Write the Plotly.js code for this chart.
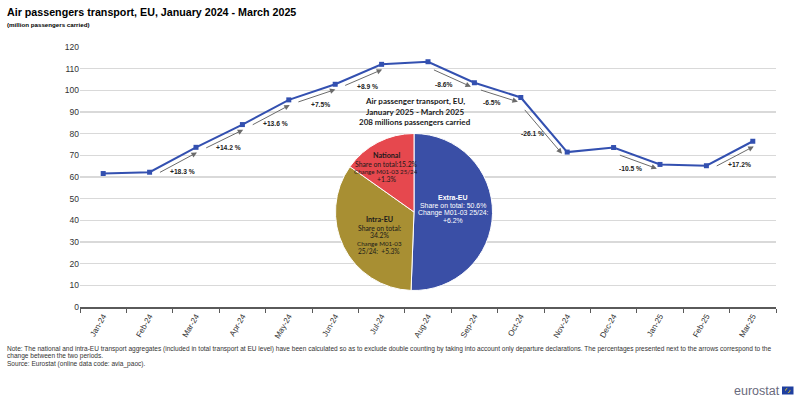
<!DOCTYPE html>
<html>
<head>
<meta charset="utf-8">
<script src="https://cdn.plot.ly/plotly-3.0.1.min.js"></script>
<style>html,body{margin:0;padding:0;background:#fff;}#chart{width:800px;height:399px;}</style>
</head>
<body>
<div id="chart"></div>
<script>
// ---- data ----
const months = ["Jan-24","Feb-24","Mar-24","Apr-24","May-24","Jun-24","Jul-24","Aug-24","Sep-24","Oct-24","Nov-24","Dec-24","Jan-25","Feb-25","Mar-25"];
const passengers = [61.6, 62.2, 73.7, 84.2, 95.6, 102.8, 112.0, 113.2, 103.5, 96.7, 71.5, 73.6, 65.8, 65.2, 76.5];
// arrows: from month -> to month, with label
const changeFrom = ["Feb-24","Mar-24","Apr-24","May-24","Jun-24","Aug-24","Sep-24","Oct-24","Dec-24","Feb-25"];
const changeTo   = ["Mar-24","Apr-24","May-24","Jun-24","Jul-24","Sep-24","Oct-24","Nov-24","Jan-25","Mar-25"];
const changeLabels = ["+18.3 %","+14.2 %","+13.6 %","+7.5%","+8.9 %","-8.6%","-6.5%","-26.1 %","-10.5 %","+17.2%"];
// pie: Jan-Mar 2025
const pieLabels = ["Extra-EU","Intra-EU","National"];
const pieShares = [50.6, 34.2, 15.2];
const pieChanges = ["+6.2%","+5.3%","+1.3%"];
const pieColors = ["#3A4FA6","#A88F33","#E6484E"];

// ---- geometry (plot area) ----
const M = {l:80, r:24, t:47, b:92};
const W = 800, H = 399;
const plotW = W - M.l - M.r, plotH = H - M.t - M.b;
const yMax = 120;
const pxPerCat = plotW / months.length;
const pxPerVal = plotH / yMax;
const px = x => (x - M.l) / plotW;       // pixel x -> paper
const py = y => (H - M.b - y) / plotH;   // pixel y -> paper

const annotations = [];
const arrowFont = {family:"Liberation Sans, Arial", size:6.7, color:"#222"};

changeFrom.forEach((f, k) => {
  const i1 = months.indexOf(f), i2 = months.indexOf(changeTo[k]);
  const v1 = passengers[i1], v2 = passengers[i2];
  const dxp = (i2 - i1) * pxPerCat, dyp = -(v2 - v1) * pxPerVal;
  const len = Math.hypot(dxp, dyp);
  const nx = -dyp / len, ny = dxp / len; // downward perpendicular (screen coords)
  const off = 5;
  const t0 = 0.14, t1 = 0.97;
  annotations.push({
    x: i1 + t1 * (i2 - i1), y: v1 + t1 * (v2 - v1), xref:"x", yref:"y",
    ax: i1 + t0 * (i2 - i1), ay: v1 + t0 * (v2 - v1), axref:"x", ayref:"y",
    showarrow:true, arrowhead:2, arrowsize:1.1, arrowwidth:1, arrowcolor:"#6b6b6b",
    xshift: nx * off, yshift: -ny * off, text:"", standoff:0, startstandoff:0
  });
  const d = 13;
  const extra = (v2 > v1) ? 4 : -2;
  annotations.push({
    x: (i1 + i2) / 2, y: (v1 + v2) / 2, xref:"x", yref:"y",
    text: "<b>" + changeLabels[k] + "</b>", showarrow:false, font: arrowFont, borderpad:0,
    xshift: nx * d + extra, yshift: -ny * d
  });
});

function txt(t, x, y, size, opts) {
  opts = opts || {};
  annotations.push({
    text: t, x: px(x), y: py(y), xref:"paper", yref:"paper",
    xanchor: opts.xanchor || "center", yanchor:"middle", showarrow:false, borderpad:0,
    font: {family: opts.family || "Lato, Liberation Sans, Arial", size: size, color: opts.color || "#1a1a1a"}
  });
}

// pie title
txt("<b>Air passenger transport, EU,</b>", 415, 101, 8);
txt("<b>January 2025 - March 2025</b>", 415, 111.5, 8);
txt("<b>208 millions passengers carried</b>", 415, 122, 8);

// National
txt("<b>" + pieLabels[2] + "</b>", 386, 155, 7.2);
txt("Share on total:" + pieShares[2].toFixed(1) + "%", 386, 163.5, 6.8);
txt("Change M01-03 25/24", 386, 171.2, 6.2);
txt(pieChanges[2], 386, 179, 6.8);
// Intra-EU
txt("<b>" + pieLabels[1] + "</b>", 379, 219.3, 7.2);
txt("Share on total:", 379, 227.5, 6.8);
txt(pieShares[1].toFixed(1) + "%", 379, 235, 6.8);
txt("Change M01-03", 379, 243.3, 6.2);
txt("25/24:  " + pieChanges[1], 379, 250.7, 6.6);
// Extra-EU
const wf = {family:"Liberation Sans, Arial", color:"#ffffff"};
txt("<b>" + pieLabels[0] + "</b>", 453, 197.7, 7, wf);
txt("Share on total: " + pieShares[0].toFixed(1) + "%", 453, 205.5, 6.9, wf);
txt("Change M01-03 25/24:", 453, 212.8, 6.9, wf);
txt(pieChanges[0], 453, 220, 6.9, wf);

// subtitle
txt("<b>(million passengers carried)</b>", 6, 24, 6.2, {xanchor:"left", family:"Liberation Sans, Arial", color:"#000"});

// notes
const nf = {xanchor:"left", family:"Liberation Sans, Arial", color:"#333"};
txt("Note: The national and intra-EU transport aggregates (included in total transport at EU level) have been calculated so as to exclude double counting by taking into account only departure declarations. The percentages presented next to the arrows correspond to the", 6, 349, 6.55, nf);
txt("change between the two periods.", 6, 356.3, 6.55, nf);
txt("Source: Eurostat (online data code: avia_paoc).", 6, 363.6, 6.55, nf);

// logo
txt("eurostat", 781, 390.5, 12.5, {xanchor:"right", family:"Liberation Sans, Arial", color:"#6a6a7d"});

const shapes = [
  {type:"rect", xref:"paper", yref:"paper", x0:px(782), x1:px(793.5), y0:py(394.5), y1:py(386.5), fillcolor:"#1f3f9f", line:{width:0}},
  {type:"circle", xref:"paper", yref:"paper", x0:px(785.5), x1:px(790), y0:py(392.7), y1:py(388.3), fillcolor:"rgba(0,0,0,0)", line:{width:0.8, color:"#f0d020", dash:"dot"}}
];

const data = [
  {
    type:"scatter", mode:"lines+markers", x: months, y: passengers,
    line:{color:"#3350B0", width:2}, marker:{symbol:"square", size:5, color:"#3350B0"},
    hoverinfo:"x+y", showlegend:false
  },
  {
    type:"pie", labels: pieLabels, values: pieShares, sort:false, direction:"clockwise", rotation:0,
    marker:{colors: pieColors, line:{color:"#ffffff", width:1}},
    textinfo:"none", hoverinfo:"label+percent", showlegend:false,
    domain:{x:[px(335.5), px(492.5)], y:[py(290.5), py(133.5)]}
  }
];

const layout = {
  width: W, height: H,
  margin: M,
  paper_bgcolor:"#ffffff", plot_bgcolor:"#ffffff",
  title: {text:"<b>Air passengers transport, EU, January 2024 - March 2025</b>", x: 7/W, xanchor:"left", xref:"container", y: 1 - 12.5/H, yanchor:"middle", yref:"container",
          font:{family:"Liberation Sans, Arial", size:10.7, color:"#000"}},
  xaxis: {
    type:"category", categoryorder:"array", categoryarray: months, range:[-0.5, months.length - 0.5],
    showgrid:false, showline:true, linecolor:"#5a5a5a", linewidth:1.5,
    ticks:"outside", tickson:"boundaries", ticklen:4, tickcolor:"#5a5a5a", tickwidth:1,
    tickangle:-60, tickfont:{family:"Liberation Sans, Arial", size:8, color:"#333"}, fixedrange:true
  },
  yaxis: {
    range:[0, yMax], dtick:10, showgrid:true, gridcolor:"#d9d9d9", gridwidth:1.5, zeroline:false,
    showline:false, ticks:"", tickfont:{family:"Liberation Sans, Arial", size:8.5, color:"#333"}, fixedrange:true
  },
  annotations: annotations,
  shapes: shapes,
  showlegend:false
};

Plotly.newPlot("chart", data, layout, {displayModeBar:false, staticPlot:true});
</script>
</body>
</html>
